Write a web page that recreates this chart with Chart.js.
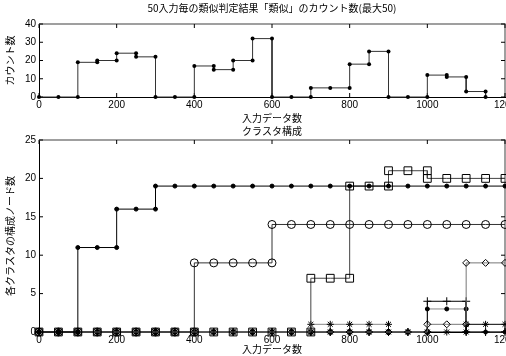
<!DOCTYPE html>
<html>
<head>
<meta charset="utf-8">
<script src="https://cdn.jsdelivr.net/npm/chart.js@4.4.1/dist/chart.umd.min.js"></script>
<style>
  html, body { margin: 0; padding: 0; background: #fff; overflow: hidden; width: 506px; height: 356px; }
  #countChart { position: absolute; left: 0; top: 0; }
  #clusterChart { position: absolute; left: 0; top: 125px; }
</style>
</head>
<body>
<canvas id="countChart" width="530" height="125"></canvas>
<canvas id="clusterChart" width="530" height="231"></canvas>
<script>
// top chart: count of "similar" per 50 inputs
const countX = [0, 50, 100, 150, 200, 250, 300, 350, 400, 450, 500, 550, 600, 650, 700, 750, 800, 850, 900, 950, 1000, 1050, 1100, 1150];
const countY = [0, 0, 19, 20, 24, 22, 0, 0, 17, 15, 20, 32, 0, 0, 5, 5, 18, 25, 0, 0, 12, 11, 3, 0];

// bottom chart: nodes per cluster
const inputX = [0, 50, 100, 150, 200, 250, 300, 350, 400, 450, 500, 550, 600, 650, 700, 750, 800, 850, 900, 950, 1000, 1050, 1100, 1150, 1200];
const clusterA = [0, 0, 11, 11, 16, 16, 19, 19, 19, 19, 19, 19, 19, 19, 19, 19, 19, 19, 19, 19, 19, 19, 19, 19, 19];
const clusterB = [0, 0, 0, 0, 0, 0, 0, 0, 9, 9, 9, 9, 14, 14, 14, 14, 14, 14, 14, 14, 14, 14, 14, 14, 14];
const clusterC = [0, 0, 0, 0, 0, 0, 0, 0, 0, 0, 0, 0, 0, 0, 7, 7, 19, 19, 21, 21, 20, 20, 20, 20, 20];
const clusterD = [0, 0, 0, 0, 0, 0, 0, 0, 0, 0, 0, 0, 0, 0, 1, 1, 1, 1, 1, null, null, null, null, null, null];
const clusterE = [0, 0, 0, 0, 0, 0, 0, 0, 0, 0, 0, 0, 0, 0, 0, 0, 0, 0, 0, 0, 1, 1, 9, 9, 9];
const clusterF = [0, 0, 0, 0, 0, 0, 0, 0, 0, 0, 0, 0, 0, 0, 0, 0, 0, 0, 0, 0, 4, 4, 0, 0, 0];
const clusterG = [0, 0, 0, 0, 0, 0, 0, 0, 0, 0, 0, 0, 0, 0, 0, 0, 0, 0, 0, 0, 3, 3, 0, 0, 0];
const clusterH = [0, 0, 0, 0, 0, 0, 0, 0, 0, 0, 0, 0, 0, 0, 0, 0, 0, 0, 0, 0, 0, 0, 1, 1, 1];

const jpFont = '"Noto Sans CJK JP", sans-serif';
const numFont = '"Liberation Sans Narrow", "Liberation Sans", sans-serif';

// a change of value is drawn as a vertical jump with a marker at both ends
function stepPoints(xs, ys) {
  const pts = [];
  ys.forEach((y, i) => {
    if (y === null) return;
    if (i > 0 && ys[i - 1] !== null && ys[i - 1] !== y) pts.push({ x: xs[i], y: ys[i - 1] });
    pts.push({ x: xs[i], y: y });
  });
  return pts;
}

// box round the plot with ticks pointing inward
const boxTicks = {
  id: 'boxTicks',
  beforeDatasetsDraw(chart) {
    const { ctx, chartArea: a, scales: { x, y } } = chart;
    ctx.save();
    ctx.strokeStyle = '#808080';
    ctx.lineWidth = 1.5;
    ctx.beginPath();
    ctx.moveTo(a.left, a.top);
    ctx.lineTo(a.right, a.top);
    ctx.lineTo(a.right, a.bottom);
    ctx.stroke();
    ctx.strokeStyle = '#000';
    ctx.lineWidth = 1;
    ctx.beginPath();
    x.ticks.forEach(t => {
      const px = x.getPixelForValue(t.value);
      ctx.moveTo(px, a.top); ctx.lineTo(px, a.top + 4);
      ctx.moveTo(px, a.bottom); ctx.lineTo(px, a.bottom - 4);
    });
    y.ticks.forEach(t => {
      const py = y.getPixelForValue(t.value);
      ctx.moveTo(a.left, py); ctx.lineTo(a.left + 4, py);
      ctx.moveTo(a.right, py); ctx.lineTo(a.right - 4, py);
    });
    ctx.stroke();
    ctx.restore();
  }
};

function scalesFor(yMax, yStep, yTitle, xHeight, xTitleBottom) {
  return {
    x: {
      type: 'linear', min: 0, max: 1200,
      ticks: { stepSize: 200, color: '#000', padding: 2, maxRotation: 0, autoSkip: false, font: { family: numFont, size: 10 }, callback: v => String(v) },
      grid: { display: false, drawTicks: false, tickLength: 0 },
      border: { color: '#000' },
      title: { display: true, text: '入力データ数', color: '#000', font: { family: jpFont, size: 10, lineHeight: 1.2 }, padding: { top: 0, bottom: xTitleBottom } },
      afterFit: s => { s.height = xHeight; }
    },
    y: {
      min: 0, max: yMax,
      ticks: { stepSize: yStep, color: '#000', padding: 3, font: { family: numFont, size: 10 }, callback: v => String(v) },
      grid: { display: false, drawTicks: false, tickLength: 0 },
      border: { color: '#000' },
      title: { display: true, text: yTitle, color: '#000', font: { family: jpFont, size: 10, lineHeight: 1.2 }, padding: { top: 4, bottom: 0 } },
      afterFit: s => { s.width = 39; }
    }
  };
}

new Chart(document.getElementById('countChart'), {
  type: 'line',
  data: {
    datasets: [{
      data: stepPoints(countX, countY),
      borderColor: '#333',
      borderWidth: 1,
      pointRadius: 2,
      pointBackgroundColor: '#000',
      pointBorderWidth: 0,
      clip: false
    }]
  },
  options: {
    responsive: false,
    animation: false,
    events: [],
    layout: { padding: { left: 0, right: 25, top: 0, bottom: 0 } },
    plugins: {
      legend: { display: false },
      tooltip: { enabled: false },
      title: {
        display: true, fullSize: false,
        text: '50入力毎の類似判定結果「類似」のカウント数(最大50)',
        color: '#000',
        font: { family: jpFont, size: 10, weight: 'normal', lineHeight: 1.2 },
        padding: { top: 2, bottom: 10 }
      }
    },
    scales: scalesFor(40, 10, 'カウント数', 28, 1)
  },
  plugins: [boxTicks]
});

function clusterSet(values, color, style, radius, fill) {
  return {
    data: stepPoints(inputX, values),
    borderColor: color,
    borderWidth: 1,
    pointStyle: style,
    pointRadius: radius,
    pointBorderColor: '#000',
    pointBorderWidth: 1,
    pointBackgroundColor: fill,
    clip: false
  };
}

new Chart(document.getElementById('clusterChart'), {
  type: 'line',
  data: {
    datasets: [
      clusterSet(clusterA, '#000', 'circle', 2, '#000'),
      clusterSet(clusterB, '#333', 'circle', 4, 'rgba(0,0,0,0)'),
      clusterSet(clusterC, '#444', 'rect', 5.5, 'rgba(0,0,0,0)'),
      clusterSet(clusterD, '#888', 'star', 3.5, 'rgba(0,0,0,0)'),
      clusterSet(clusterE, '#777', 'rectRot', 3.5, 'rgba(0,0,0,0)'),
      clusterSet(clusterF, '#000', 'cross', 4, 'rgba(0,0,0,0)'),
      clusterSet(clusterG, '#888', 'circle', 2, '#000'),
      clusterSet(clusterH, '#000', 'star', 3.5, 'rgba(0,0,0,0)')
    ]
  },
  options: {
    responsive: false,
    animation: false,
    events: [],
    layout: { padding: { left: 0, right: 25, top: 0, bottom: 0 } },
    plugins: {
      legend: { display: false },
      tooltip: { enabled: false },
      title: {
        display: true, fullSize: false,
        text: 'クラスタ構成',
        color: '#000',
        font: { family: jpFont, size: 10, weight: 'normal', lineHeight: 1.2 },
        padding: { top: 0, bottom: 3 }
      }
    },
    scales: scalesFor(25, 5, '各クラスタの構成ノード数', 24, 1)
  },
  plugins: [boxTicks]
});
</script>
</body>
</html>
